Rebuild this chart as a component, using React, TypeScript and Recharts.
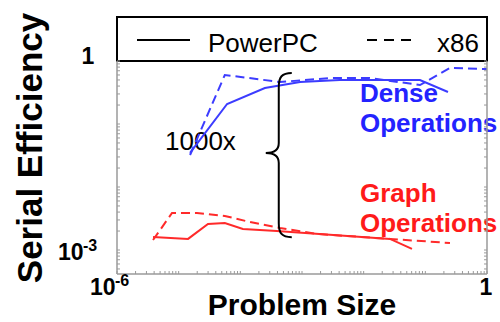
import React from 'react';
import { ComposedChart, Line, XAxis, YAxis, ReferenceLine, Customized } from 'recharts';

// PowerPC (solid) / x86 (dashed), dense (blue) and graph (red) operations
const ppcDenseX = [1.53e-5, 6.1e-5, 2.5e-4, 9.3e-4, 4.1e-3, 0.0184, 0.0818, 0.233];
const ppcDenseY = [0.0347, 0.208, 0.373, 0.464, 0.499, 0.499, 0.499, 0.322];
const x86DenseX = [1.53e-5, 5.6e-5, 4.4e-4, 2.84e-3, 0.0126, 0.0818, 0.251, 1.0];
const x86DenseY = [0.0322, 0.6, 0.464, 0.537, 0.537, 0.416, 0.774, 0.746];
const ppcGraphX = [3.84e-6, 1.42e-5, 2.99e-5, 5.6e-5, 1.1e-4, 3.9e-4, 0.0267, 0.0607];
const ppcGraphY = [0.00161, 0.0015, 0.00259, 0.00268, 0.00215, 0.002, 0.0015, 0.00104];
const x86GraphX = [3.84e-6, 7.8e-6, 1.98e-5, 5.6e-5, 1.44e-4, 4.4e-4, 1.75e-3, 0.0267, 0.251];
const x86GraphY = [0.00144, 0.00387, 0.00387, 0.00347, 0.00278, 0.00223, 0.0018, 0.0015, 0.00129];

const X_DOMAIN = [1e-6, 1];
const Y_DOMAIN = [4.16e-4, 1];
const X_DECADES = [-6, -5, -4, -3, -2, -1];
const Y_DECADES = [-4, -3, -2, -1];

const BRACE_X = 4.2e-4;
const BRACE_TOP = 0.645;
const BRACE_BOTTOM = 0.0016;

const zip = (xs: number[], ys: number[]) => xs.map((x, i) => ({ x, y: ys[i] }));
const ppcDense = zip(ppcDenseX, ppcDenseY);
const x86Dense = zip(x86DenseX, x86DenseY);
const ppcGraph = zip(ppcGraphX, ppcGraphY);
const x86Graph = zip(x86GraphX, x86GraphY);

const minorTicks = (decades: number[], lo: number, hi: number) => {
  const out: number[] = [];
  decades.forEach((d) => {
    for (let k = 1; k <= 9; k++) {
      const v = k * Math.pow(10, d);
      if (v >= lo * 0.999 && v <= hi * 1.001) out.push(v);
    }
  });
  out.push(1);
  return out;
};
const xTicks = minorTicks(X_DECADES, X_DOMAIN[0], X_DOMAIN[1]);
const yTicks = minorTicks(Y_DECADES, Y_DOMAIN[0], Y_DOMAIN[1]);

const FONT = 'Liberation Sans, Arial, sans-serif';
const AXIS_GRAY = '#9a9a9a';
const BLUE = '#3c3cff';
const RED = '#ff2a2a';

const near = (a: number, b: number) => Math.abs(Math.log10(a) - Math.log10(b)) < 1e-6;

const XTick = (props: any) => {
  const { x, payload } = props;
  const y = 274;
  const v = payload.value;
  return (
    <g>
      <line x1={x} y1={y} x2={x} y2={y - 3} stroke={AXIS_GRAY} strokeWidth={1} />
      {near(v, 1e-6) && (
        <g fontFamily={FONT} fontWeight="bold" fill="#000">
          <text x={x - 27} y={y + 21} fontSize={23}>10</text>
          <text x={x - 2} y={y + 12} fontSize={16}>-6</text>
        </g>
      )}
      {near(v, 1) && (
        <text x={x - 1} y={y + 21} fontSize={23} fontFamily={FONT} fontWeight="bold" textAnchor="middle" fill="#000">1</text>
      )}
    </g>
  );
};

const YTickLeft = (props: any) => {
  const { y, payload } = props;
  const x = 117;
  const v = payload.value;
  return (
    <g>
      <line x1={x} y1={y} x2={x + 3} y2={y} stroke={AXIS_GRAY} strokeWidth={1} />
      {near(v, 1) && (
        <text x={x - 29} y={y + 3} fontSize={23} fontFamily={FONT} fontWeight="bold" textAnchor="middle" fill="#000">1</text>
      )}
      {near(v, 1e-3) && (
        <g fontFamily={FONT} fontWeight="bold" fill="#000">
          <text x={x - 59} y={y + 10} fontSize={23}>10</text>
          <text x={x - 34} y={y + 1} fontSize={16}>-3</text>
        </g>
      )}
    </g>
  );
};

const YTickRight = (props: any) => {
  const { y } = props;
  const x = 487;
  return <line x1={x} y1={y} x2={x - 3} y2={y} stroke={AXIS_GRAY} strokeWidth={1} />;
};

const Brace = (props: any) => {
  const { x1, y1, y2 } = props;
  const x = x1;
  const top = Math.min(y1, y2);
  const bot = Math.max(y1, y2);
  const ym = (top + bot) / 2 - 2;
  const d = [
    `M ${x + 13} ${top}`,
    `C ${x + 3} ${top} ${x} ${top + 4} ${x} ${top + 14}`,
    `L ${x} ${ym - 10}`,
    `C ${x} ${ym - 3} ${x - 5} ${ym} ${x - 13} ${ym}`,
    `C ${x - 5} ${ym} ${x} ${ym + 3} ${x} ${ym + 10}`,
    `L ${x} ${bot - 14}`,
    `C ${x} ${bot - 4} ${x + 3} ${bot} ${x + 13} ${bot}`,
  ].join(' ');
  return <path d={d} fill="none" stroke="#000" strokeWidth={2} />;
};

const Overlay = () => (
  <g fontFamily={FONT}>
    {/* legend box */}
    <rect x={117} y={17} width={370} height={44} fill="#fff" stroke="#000" strokeWidth={2} />
    <line x1={137} y1={40} x2={190} y2={40} stroke="#000" strokeWidth={2} />
    <text x={208} y={52} fontSize={26} fill="#000">PowerPC</text>
    <line x1={367} y1={40} x2={412} y2={40} stroke="#000" strokeWidth={2} strokeDasharray="10 7" />
    <text x={437} y={52} fontSize={26} fill="#000">x86</text>
    {/* annotations */}
    <text x={165} y={150} fontSize={26} fill="#000">1000x</text>
    <text x={360} y={102} fontSize={26} fontWeight="bold" fill="#2323ff">Dense</text>
    <text x={360} y={132} fontSize={26} fontWeight="bold" fill="#2323ff">Operations</text>
    <text x={360} y={202} fontSize={26} fontWeight="bold" fill="#ff1a1a">Graph</text>
    <text x={360} y={232} fontSize={26} fontWeight="bold" fill="#ff1a1a">Operations</text>
    {/* axis titles */}
    <text transform="translate(42,148) rotate(-90)" textAnchor="middle" fontSize={35} fontWeight="bold" fill="#000">Serial Efficiency</text>
    <text x={302} y={315} textAnchor="middle" fontSize={30} fontWeight="bold" fill="#000">Problem Size</text>
  </g>
);

export default function App() {
  return (
    <div style={{ position: 'absolute', left: 0, top: 0, width: 500, height: 322, background: '#fff' }}>
      <ComposedChart width={500} height={322} margin={{ top: 61, right: 3, bottom: 38, left: 107 }}>
        <XAxis
          dataKey="x"
          type="number"
          scale="log"
          domain={X_DOMAIN}
          allowDataOverflow
          ticks={xTicks}
          interval={0}
          tickSize={3}
          tickMargin={2}
          tickLine={false}
          height={10}
          tick={<XTick />}
          axisLine={{ stroke: AXIS_GRAY, strokeWidth: 1.5 }}
        />
        <YAxis
          yAxisId="l"
          type="number"
          scale="log"
          domain={Y_DOMAIN}
          allowDataOverflow
          ticks={yTicks}
          interval={0}
          tickSize={3}
          tickMargin={2}
          tickLine={false}
          width={10}
          tick={<YTickLeft />}
          axisLine={{ stroke: AXIS_GRAY, strokeWidth: 1.5 }}
        />
        <YAxis
          yAxisId="r"
          orientation="right"
          type="number"
          scale="log"
          domain={Y_DOMAIN}
          allowDataOverflow
          ticks={yTicks}
          interval={0}
          tickSize={3}
          tickMargin={2}
          tickLine={false}
          width={10}
          tick={<YTickRight />}
          axisLine={{ stroke: AXIS_GRAY, strokeWidth: 1.5 }}
        />
        <Line yAxisId="l" data={ppcDense} dataKey="y" stroke={BLUE} strokeWidth={2} dot={false} isAnimationActive={false} />
        <Line yAxisId="l" data={x86Dense} dataKey="y" stroke={BLUE} strokeWidth={2} strokeDasharray="9 5" dot={false} isAnimationActive={false} />
        <Line yAxisId="l" data={ppcGraph} dataKey="y" stroke={RED} strokeWidth={2} dot={false} isAnimationActive={false} />
        <Line yAxisId="l" data={x86Graph} dataKey="y" stroke={RED} strokeWidth={2} strokeDasharray="9 5" dot={false} isAnimationActive={false} />
        <ReferenceLine
          yAxisId="l"
          segment={[{ x: BRACE_X, y: BRACE_TOP }, { x: BRACE_X, y: BRACE_BOTTOM }]}
          shape={(p: any) => <Brace {...p} />}
          ifOverflow="visible"
        />
        <Customized component={<Overlay />} />
      </ComposedChart>
    </div>
  );
}
